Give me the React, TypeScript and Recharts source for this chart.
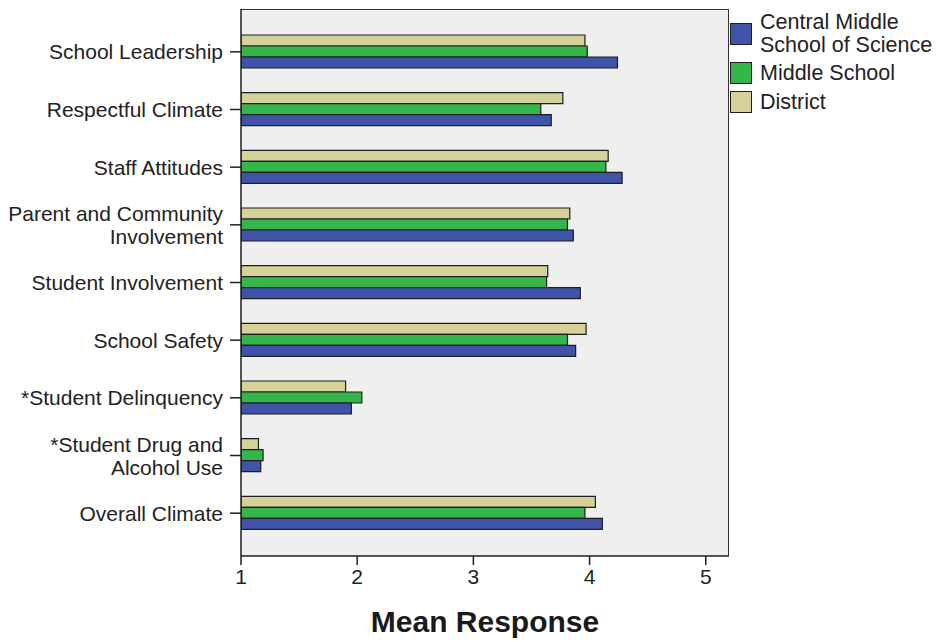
import { BarChart, Bar, XAxis, YAxis } from 'recharts';

const categories = [
  'School Leadership',
  'Respectful Climate',
  'Staff Attitudes',
  'Parent and Community\nInvolvement',
  'Student Involvement',
  'School Safety',
  '*Student Delinquency',
  '*Student Drug and\nAlcohol Use',
  'Overall Climate',
];

const centralValues = [4.24, 3.67, 4.28, 3.86, 3.92, 3.88, 1.95, 1.17, 4.11];
const middleValues = [3.98, 3.58, 4.14, 3.81, 3.63, 3.81, 2.04, 1.19, 3.96];
const districtValues = [3.96, 3.77, 4.16, 3.83, 3.64, 3.97, 1.9, 1.15, 4.05];

const xTicks = [1, 2, 3, 4, 5];

const BLUE = '#3f53a8';
const GREEN = '#34b64a';
const TAN = '#d6d199';
const EDGE = '#1e1e1e';
const FONT = '"Liberation Sans", Arial, sans-serif';

const data = categories.map((name, i) => ({
  name,
  central: centralValues[i],
  middle: middleValues[i],
  district: districtValues[i],
}));

const legendItems = [
  { label: 'Central Middle\nSchool of Science', color: BLUE },
  { label: 'Middle School', color: GREEN },
  { label: 'District', color: TAN },
];
// swatch tops in px (layout only)
const legendTops = [23, 62, 91];

// plot box in page px
const PLOT = { left: 241, top: 9, right: 729, bottom: 556 };

// y tick labels, right aligned, split on \n
const CategoryTick = (props: any) => {
  const { x, y, payload } = props;
  const lines: string[] = String(payload.value).split('\n');
  const step = 23;
  const start = -((lines.length - 1) * step) / 2;
  return (
    <g>
      {lines.map((line, i) => (
        <text
          key={i}
          x={x}
          y={y + start + i * step}
          dy="0.36em"
          textAnchor="end"
          fill="#222"
          fontSize={21}
          fontFamily={FONT}
        >
          {line}
        </text>
      ))}
    </g>
  );
};

export default function App() {
  return (
    <div style={{ position: 'absolute', left: 0, top: 0, width: 937, height: 642, background: '#fff', fontFamily: FONT }}>
      {/* plot background + frame */}
      <div
        style={{
          position: 'absolute',
          left: PLOT.left,
          top: PLOT.top,
          width: PLOT.right - PLOT.left,
          height: PLOT.bottom - PLOT.top,
          background: '#efefef',
          borderTop: '1.5px solid #333',
          borderRight: '1.5px solid #333',
          boxSizing: 'border-box',
        }}
      />
      <div style={{ position: 'absolute', left: 0, top: 0 }}>
        <BarChart
          width={937}
          height={642}
          data={data}
          layout="vertical"
          margin={{ top: 9, right: 208, bottom: 0, left: 0 }}
          barGap={0}
        >
          <XAxis
            type="number"
            domain={[1, 5.2]}
            ticks={xTicks}
            allowDataOverflow
            height={86}
            tickSize={9}
            tickMargin={4}
            stroke={EDGE}
            strokeWidth={1.5}
            tick={{ fill: '#222', fontSize: 21, fontFamily: FONT }}
          />
          <YAxis
            type="category"
            dataKey="name"
            width={241}
            padding={{ top: 14, bottom: 14 }}
            tickSize={11}
            tickMargin={7}
            stroke={EDGE}
            strokeWidth={1.5}
            tick={<CategoryTick />}
            interval={0}
          />
          <Bar dataKey="district" fill={TAN} stroke={EDGE} strokeWidth={1.2} barSize={11} isAnimationActive={false} />
          <Bar dataKey="middle" fill={GREEN} stroke={EDGE} strokeWidth={1.2} barSize={11} isAnimationActive={false} />
          <Bar dataKey="central" fill={BLUE} stroke={EDGE} strokeWidth={1.2} barSize={11} isAnimationActive={false} />
        </BarChart>
      </div>

      {/* legend */}
      {legendItems.map((item, i) => (
        <div key={i} style={{ position: 'absolute', left: 730, top: legendTops[i], display: 'flex', alignItems: 'center', height: 22 }}>
          <div
            style={{
              width: 22,
              height: 22,
              boxSizing: 'border-box',
              background: item.color,
              border: `1.5px solid ${EDGE}`,
              marginRight: 8,
              flexShrink: 0,
            }}
          />
          <div style={{ fontSize: 21.5, lineHeight: '23px', color: '#222', whiteSpace: 'pre' }}>{item.label}</div>
        </div>
      ))}

      <div
        style={{
          position: 'absolute',
          left: 240,
          top: 604,
          width: 490,
          textAlign: 'center',
          fontSize: 30,
          fontWeight: 'bold',
          lineHeight: '36px',
          color: '#1a1a1a',
        }}
      >
        Mean Response
      </div>
    </div>
  );
}
